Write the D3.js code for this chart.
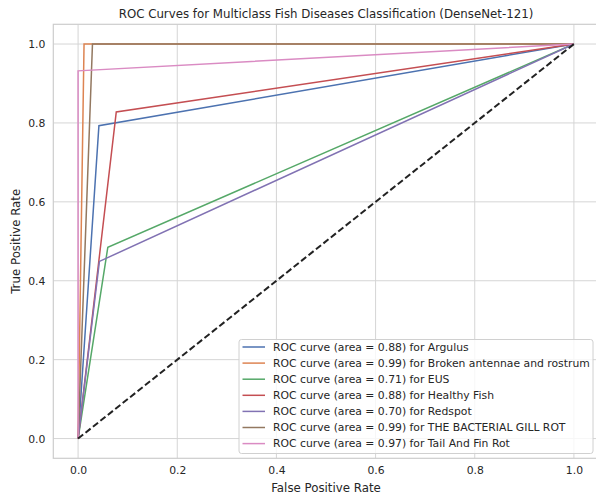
<!DOCTYPE html>
<html>
<head>
<meta charset="utf-8">
<script src="https://cdn.jsdelivr.net/npm/d3@7"></script>
<style>
  html, body { margin: 0; padding: 0; background: #fff; }
  svg { display: block; font-family: "DejaVu Sans", sans-serif; }
</style>
</head>
<body>
<svg id="chart" width="596" height="499"></svg>
<script>
// ---- data ----
const classNames = ["Argulus", "Broken antennae and rostrum", "EUS", "Healthy Fish", "Redspot", "THE BACTERIAL GILL ROT", "Tail And Fin Rot"];
const aucValues = [0.88, 0.99, 0.71, 0.88, 0.70, 0.99, 0.97];
const fprArgulus = [0, 0.042, 1];   const tprArgulus = [0, 0.793, 1];
const fprBroken  = [0, 0.012, 1];   const tprBroken  = [0, 1.0, 1];
const fprEUS     = [0, 0.060, 1];   const tprEUS     = [0, 0.485, 1];
const fprHealthy = [0, 0.077, 1];   const tprHealthy = [0, 0.828, 1];
const fprRedspot = [0, 0.043, 1];   const tprRedspot = [0, 0.449, 1];
const fprGill    = [0, 0.029, 1];   const tprGill    = [0, 1.0, 1];
const fprTail    = [0, 0.0, 1];     const tprTail    = [0, 0.932, 1];
const xTicks = [0.0, 0.2, 0.4, 0.6, 0.8, 1.0];
const yTicks = [0.0, 0.2, 0.4, 0.6, 0.8, 1.0];

const fprs = [fprArgulus, fprBroken, fprEUS, fprHealthy, fprRedspot, fprGill, fprTail];
const tprs = [tprArgulus, tprBroken, tprEUS, tprHealthy, tprRedspot, tprGill, tprTail];
const colors = ["#4c72b0", "#dd8452", "#55a868", "#c44e52", "#8172b3", "#937860", "#da8bc3"];

// ---- layout ----
const svg = d3.select("#chart");
const pLeft = 53.3, pRight = 598.7, pTop = 24.3, pBottom = 458.3;
const x = d3.scaleLinear().domain([-0.05, 1.05]).range([pLeft, pRight]);
const y = d3.scaleLinear().domain([-0.05, 1.05]).range([pBottom, pTop]);
const textColor = "#262626";
const gridColor = "#d5d5d5";

// grid
const g = svg.append("g");
g.selectAll(".vg").data(xTicks).join("line")
  .attr("x1", d => x(d)).attr("x2", d => x(d)).attr("y1", pTop).attr("y2", pBottom)
  .attr("stroke", gridColor).attr("stroke-width", 1);
g.selectAll(".hg").data(yTicks).join("line")
  .attr("x1", pLeft).attr("x2", pRight).attr("y1", d => y(d)).attr("y2", d => y(d))
  .attr("stroke", gridColor).attr("stroke-width", 1);

// frame
svg.append("rect").attr("x", pLeft).attr("y", pTop).attr("width", pRight - pLeft).attr("height", pBottom - pTop)
  .attr("fill", "none").attr("stroke", "#cccccc").attr("stroke-width", 1.2);

// axes (tick labels only)
const xAxis = d3.axisBottom(x).tickValues(xTicks).tickFormat(d3.format(".1f")).tickSize(0).tickPadding(8);
const yAxis = d3.axisLeft(y).tickValues(yTicks).tickFormat(d3.format(".1f")).tickSize(0).tickPadding(8);
const gx = svg.append("g").attr("transform", `translate(0,${pBottom})`).call(xAxis);
const gy = svg.append("g").attr("transform", `translate(${pLeft},0)`).call(yAxis);
[gx, gy].forEach(a => {
  a.select(".domain").remove();
  a.selectAll("text").attr("fill", textColor).style("font-size", "10.8px").style("font-family", "DejaVu Sans, sans-serif");
});

// curves
const line = d3.line().x(d => x(d[0])).y(d => y(d[1]));
fprs.forEach((f, i) => {
  const pts = f.map((v, j) => [v, tprs[i][j]]);
  svg.append("path").datum(pts).attr("d", line)
    .attr("fill", "none").attr("stroke", colors[i]).attr("stroke-width", 1.5)
    .attr("stroke-linejoin", "miter");
});
// diagonal
svg.append("path").datum([[0, 0], [1, 1]]).attr("d", line)
  .attr("fill", "none").attr("stroke", "#222").attr("stroke-width", 2)
  .attr("stroke-dasharray", "6.5,3");

// title and labels
svg.append("text").attr("x", (pLeft + pRight) / 2).attr("y", 18)
  .attr("text-anchor", "middle").attr("fill", textColor).style("font-size", "11.8px")
  .text("ROC Curves for Multiclass Fish Diseases Classification (DenseNet-121)");
svg.append("text").attr("x", (pLeft + pRight) / 2).attr("y", 492)
  .attr("text-anchor", "middle").attr("fill", textColor).style("font-size", "11.8px")
  .text("False Positive Rate");
svg.append("text").attr("transform", `translate(20,${(pTop + pBottom) / 2}) rotate(-90)`)
  .attr("text-anchor", "middle").attr("fill", textColor).style("font-size", "11.8px")
  .text("True Positive Rate");

// legend
const lgX = 239, lgY = 339.5, lgW = 354, lgH = 114, rowH = 16.1;
const lg = svg.append("g");
lg.append("rect").attr("x", lgX).attr("y", lgY).attr("width", lgW).attr("height", lgH)
  .attr("rx", 2.5).attr("fill", "rgba(255,255,255,0.8)").attr("stroke", "#d0d0d0").attr("stroke-width", 1);
classNames.forEach((n, i) => {
  const cy = lgY + 7.5 + i * rowH;
  lg.append("line").attr("x1", lgX + 3.5).attr("x2", lgX + 26).attr("y1", cy).attr("y2", cy)
    .attr("stroke", colors[i]).attr("stroke-width", 1.5);
  lg.append("text").attr("x", lgX + 34).attr("y", cy).attr("dy", "0.35em")
    .attr("fill", textColor).style("font-size", "10.8px")
    .text(`ROC curve (area = ${aucValues[i].toFixed(2)}) for ${n}`);
});
</script>
</body>
</html>
